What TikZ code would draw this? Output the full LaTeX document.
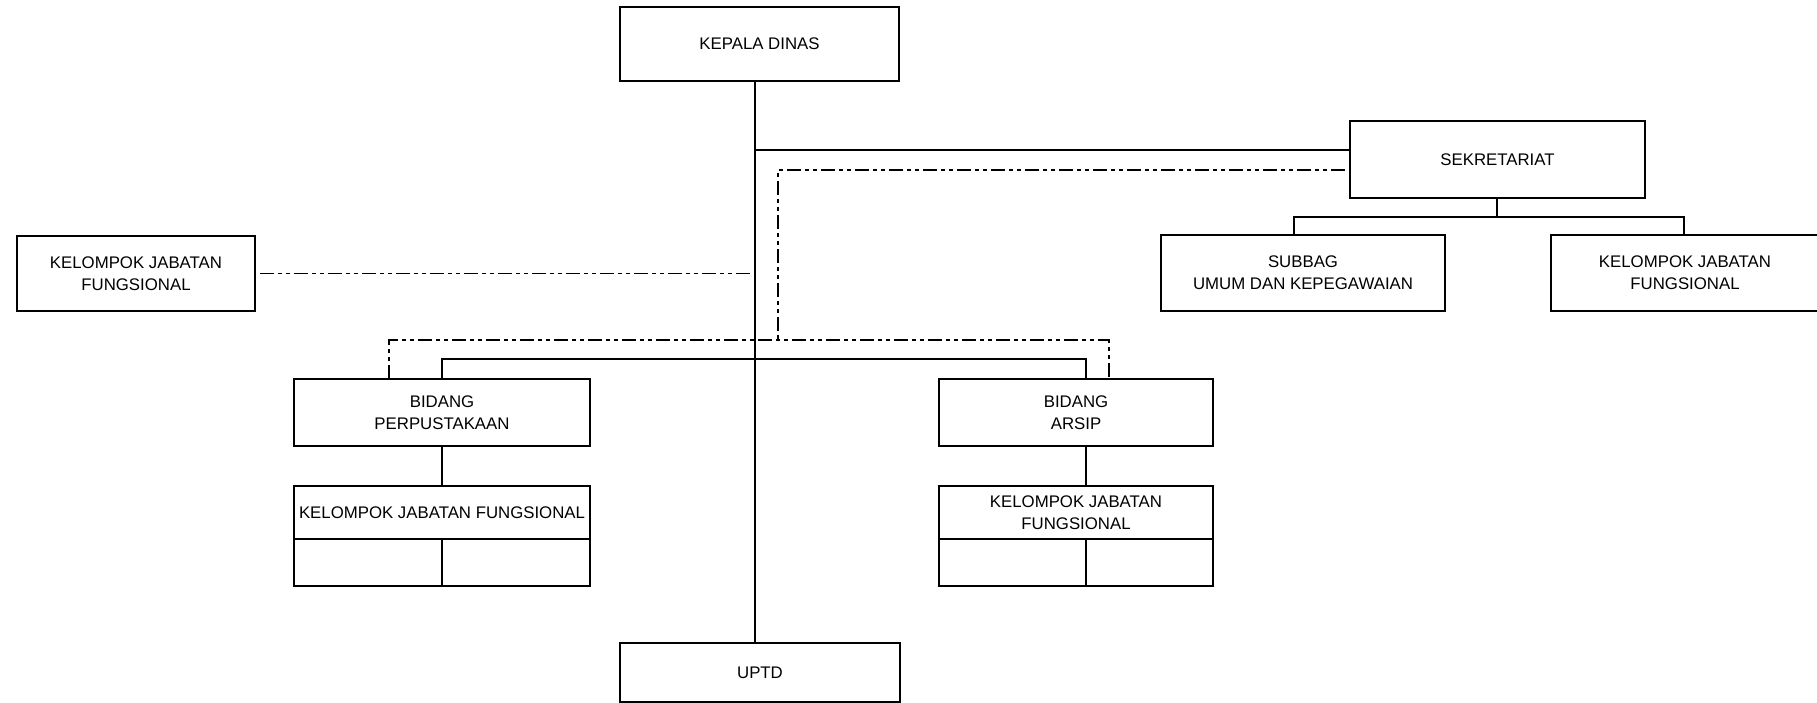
\documentclass[tikz,border=0pt]{standalone}
\usepackage{fontspec}
\setmainfont{Liberation Sans}
\begin{document}
\begin{tikzpicture}[x=1pt,y=-1pt,
  unit/.style={draw,line width=1.8pt,inner sep=0pt,outer sep=0pt,align=center,
    font=\fontsize{16.8}{22}\selectfont},
  link/.style={line width=1.8pt},
  staff/.style={line width=1.8pt,
    dash pattern=on 14pt off 4pt on 4pt off 4pt on 4pt off 4pt}]
  % page frame
  \fill[white] (0,0) rectangle (1817,703);
  \useasboundingbox (0,0) rectangle (1817,703);

  % top level
  \node[unit,minimum width=279pt,minimum height=74pt] (kd) at (759.5,44) {KEPALA DINAS};
  \node[unit,minimum width=280pt,minimum height=59pt] (uptd) at (760,672.5) {UPTD};

  % secretariat branch
  \node[unit,minimum width=295pt,minimum height=77pt] (sek) at (1497.5,159.5) {SEKRETARIAT};
  \node[unit,minimum width=284pt,minimum height=76pt] (sub) at (1303,273) {SUBBAG\\UMUM DAN KEPEGAWAIAN};
  \node[unit,minimum width=268pt,minimum height=76pt] (kjfR) at (1685,273) {KELOMPOK JABATAN\\FUNGSIONAL};

  % functional group reporting to the head
  \node[unit,minimum width=238pt,minimum height=75pt] (kjfL) at (136,273.5) {KELOMPOK JABATAN\\FUNGSIONAL};

  % divisions
  \node[unit,minimum width=296pt,minimum height=67pt] (bp) at (442,412.5) {BIDANG\\PERPUSTAKAAN};
  \node[unit,minimum width=274pt,minimum height=67pt] (ba) at (1076,412.5) {BIDANG\\ARSIP};

  % functional tables under each division
  \node[unit,minimum width=296pt,minimum height=53pt] (tp) at (442,512.5) {KELOMPOK JABATAN FUNGSIONAL};
  \node[unit,minimum width=148pt,minimum height=47pt,anchor=north west] (tp1) at (tp.south west) {};
  \node[unit,minimum width=148pt,minimum height=47pt,anchor=north east] (tp2) at (tp.south east) {};
  \node[unit,minimum width=274pt,minimum height=53pt] (ta) at (1076,512.5) {KELOMPOK JABATAN\\FUNGSIONAL};
  \node[unit,minimum width=147pt,minimum height=47pt,anchor=north west] (ta1) at (ta.south west) {};
  \node[unit,minimum width=127pt,minimum height=47pt,anchor=north east] (ta2) at (ta.south east) {};

  % routing points
  \coordinate (tk) at (755,0);
  \coordinate (sekJ) at (755,150);
  \coordinate (coordA) at (778,170);
  \coordinate (coordB) at (778,340);
  \coordinate (secBus) at (1497,217);
  \coordinate (divBus) at (755,359);

  % main line of command
  \draw[link] (tk |- kd.south) -- (tk |- uptd.north);
  \draw[link] (sekJ) -- (sekJ -| sek.west);

  % secretariat to its units
  \draw[link] (sek.south -| secBus) -- (secBus);
  \draw[link] (sub.north -| 1294,0) -- (1294,217) -- (1684,217) -- (kjfR.north -| 1684,0);

  % head to divisions
  \draw[link] (bp.north) -- (bp.north |- divBus) -- (divBus -| 1086,0) -- (ba.north -| 1086,0);
  \draw[link] (bp.south) -- (tp.north);
  \draw[link] (ba.south -| 1086,0) -- (ta.north -| 1086,0);

  % coordination lines
  \draw[staff] ([xshift=5pt]kjfL.east) -- (kjfL.east -| tk);
  \draw[staff] ([xshift=-5pt]sek.west |- coordA) -- (coordA) -- (coordB);
  \draw[staff] (bp.north -| 389,0) -- (389,340) -- (1109,340) -- (ba.north -| 1109,0);
\end{tikzpicture}
\end{document}
